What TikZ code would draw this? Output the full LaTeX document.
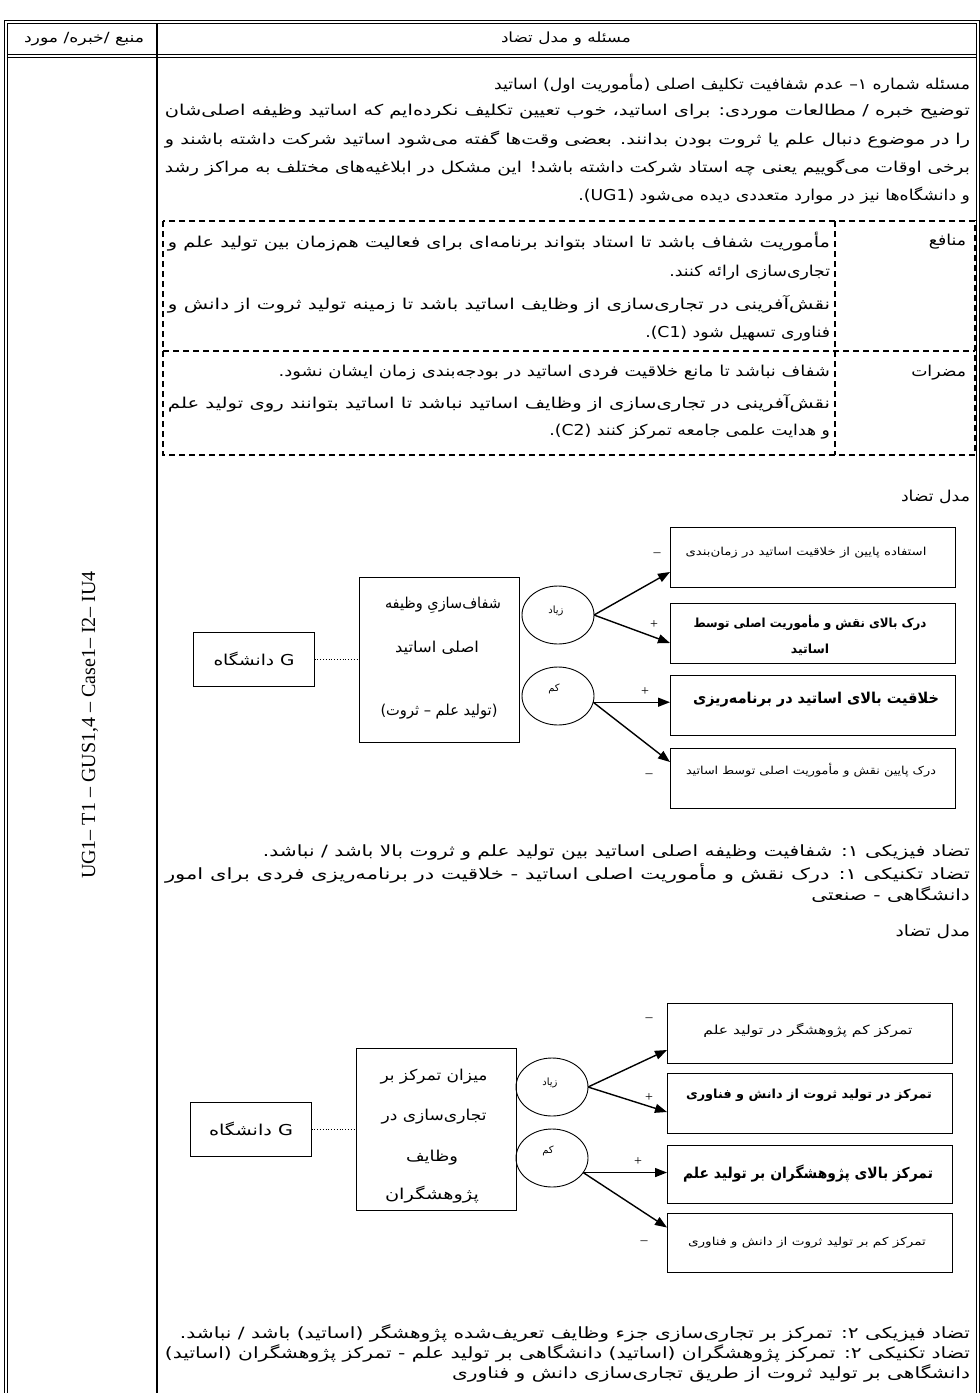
\documentclass[tikz,border=0pt]{standalone}
\usepackage{fontspec}
\usepackage{graphicx}
\usetikzlibrary{arrows.meta,shapes.geometric,calc}
\TeXXeTstate=1
\newfontfamily\pf[Script=Arabic]{DejaVu Sans}
\newfontfamily\lf{Liberation Serif}
\newcommand\z{^^^^200c}
\newcommand\fw[2]{\resizebox{#1}{\height}{#2}}
\newcommand\hs[2]{\scalebox{#1}[1]{#2}}
\begin{document}
\begin{tikzpicture}[x=1pt,y=-1pt,
  every node/.style={inner sep=0pt,outer sep=0pt},
  tl/.style={line width=0.9pt},
  hd/.style={font=\pf\fontsize{14}{16}\selectfont},
  ptxt/.style={font=\pf\fontsize{15}{18}\selectfont,anchor=east},
  qtxt/.style={font=\pf\fontsize{15.5}{18}\selectfont,anchor=east},
  rbox/.style={draw,line width=0.9pt,minimum width=285pt,minimum height=60pt},
  mbox/.style={draw,line width=0.9pt,minimum width=160pt,minimum height=165pt,anchor=north west},
  gbox/.style={draw,line width=0.9pt,minimum width=121pt,minimum height=54pt,font=\pf\fontsize{15}{17}\selectfont},
  oval/.style={draw,ellipse,line width=0.9pt,minimum width=72pt,minimum height=58pt},
  otxt/.style={font=\pf\fontsize{10}{12}\selectfont},
  mtxt/.style={font=\pf\fontsize{15}{17}\selectfont},
  arr/.style={line width=1.4pt,-{Triangle[length=12pt,width=9pt]}},
  sgn/.style={font=\lf\fontsize{14}{14}\selectfont},
  dsh/.style={line width=1.3pt,dash pattern=on 6pt off 4pt},
  small/.style={font=\pf\fontsize{11}{13}\selectfont},
  bmid/.style={font=\pf\bfseries\fontsize{12.5}{14}\selectfont},
  bbig/.style={font=\pf\bfseries\fontsize{15}{17}\selectfont}]
\useasboundingbox (0,0) rectangle (980,1393);
% table frame
\draw[tl] (4,1393) -- (4,20) -- (979,20) -- (979,1393);
\draw[tl] (7,1393) -- (7,23) -- (976,23) -- (976,1393);
\draw[tl] (7,54) -- (976,54);
\draw[tl] (7,57) -- (976,57);
\draw[line width=1.1pt] (157,23) -- (157,1393);
% header
\node[hd] (h1) at (84,39) {\fw{120pt}{\beginR منبع /خبره/ مورد\endR}};
\node[hd] (h2) at (566,39) {\fw{130pt}{\beginR مسئله و مدل تضاد\endR}};
% left column
\node[font=\lf\fontsize{20}{24}\selectfont,rotate=90] (src) at (90,725) {UG1– T1 – GUS1,4 – Case1– I2– IU4};
% paragraph
\node[ptxt] (p1) at (970,84) {\hs{1.15}{\beginR مسئله شماره ۱– عدم شفافیت تکلیف اصلی (مأموریت اول) اساتید\endR}};
\node[ptxt] (p2) at (970,112) {\fw{805pt}{\beginR توضیح خبره / مطالعات موردی: برای اساتید، خوب تعیین تکلیف نکرده\z ایم که اساتید وظیفه اصلی\z شان\endR}};
\node[ptxt] (p3) at (970,140) {\fw{805pt}{\beginR را در موضوع دنبال علم یا ثروت بودن بدانند. بعضی وقت\z ها گفته می\z شود اساتید شرکت داشته باشند و\endR}};
\node[ptxt] (p4) at (970,168) {\fw{805pt}{\beginR برخی اوقات می\z گوییم یعنی چه استاد شرکت داشته باشد! این مشکل در ابلاغیه\z های مختلف به مراکز رشد\endR}};
\node[ptxt] (p5) at (970,196) {\hs{1.15}{\beginR و دانشگاه\z ها نیز در موارد متعددی دیده می\z شود (\beginL UG1\endL).\endR}};
% dashed table
\draw[dsh] (163,221) rectangle (975,455);
\draw[dsh] (163,351) -- (975,351);
\draw[dsh] (835,221) -- (835,455);
\node[ptxt] (lb1) at (966,242) {\hs{1.15}{\beginR منافع\endR}};
\node[ptxt] (b1) at (830,242) {\fw{662pt}{\beginR مأموریت شفاف باشد تا استاد بتواند برنامه\z ای برای فعالیت هم\z زمان بین تولید علم و\endR}};
\node[ptxt] (b2) at (830,273) {\hs{1.15}{\beginR تجاری\z سازی ارائه کنند.\endR}};
\node[ptxt] (b3) at (830,304) {\fw{662pt}{\beginR نقش\z آفرینی در تجاری\z سازی از وظایف اساتید باشد تا زمینه تولید ثروت از دانش و\endR}};
\node[ptxt] (b4) at (830,334) {\hs{1.15}{\beginR فناوری تسهیل شود (\beginL C1\endL).\endR}};
\node[ptxt] (lb2) at (966,373) {\hs{1.15}{\beginR مضرات\endR}};
\node[ptxt] (d1) at (830,373) {\hs{1.2}{\beginR شفاف نباشد تا مانع خلاقیت فردی اساتید در بودجه\z بندی زمان ایشان نشود.\endR}};
\node[ptxt] (d2) at (830,403) {\fw{662pt}{\beginR نقش\z آفرینی در تجاری\z سازی از وظایف اساتید نباشد تا اساتید بتوانند روی تولید علم\endR}};
\node[ptxt] (d3) at (830,432) {\hs{1.15}{\beginR و هدایت علمی جامعه تمرکز کنند (\beginL C2\endL).\endR}};
% model 1
\node[ptxt] (m1) at (970,497) {\hs{1.15}{\beginR مدل تضاد\endR}};
\node[gbox] (G1) at (254,659) {\fw{81pt}{\beginR\beginL G\endL{} دانشگاه\endR}};
\node[mbox] (M1) at (359,577) {};
\node[mtxt] (M1a) at (443,605) {\fw{116pt}{\beginR شفاف\z سازیِ وظیفه\endR}};
\node[mtxt] (M1b) at (437,648) {\fw{84pt}{\beginR اصلی اساتید\endR}};
\node[mtxt] (M1c) at (439,712) {\fw{117pt}{\beginR (تولید علم – ثروت)\endR}};
\node[oval] (C1a) at (558,615) {};
\node[otxt] (C1at) at (556,611) {\beginR زیاد\endR};
\node[oval] (C1b) at (558,696) {};
\node[otxt] (C1bt) at (554,689) {\beginR کم\endR};
\node[rbox] (R1a) at (812.5,557) {};
\node[small] (R1at) at (806,553) {\fw{241pt}{\beginR استفاده پایین از خلاقیت اساتید در زمان\z بندی\endR}};
\node[rbox] (R1b) at (812.5,633) {};
\node[bmid] (R1bt) at (810,623) {\fw{233pt}{\beginR درک بالای نقش و مأموریت اصلی توسط\endR}};
\node[bmid] (R1bu) at (810,650) {\beginR اساتید\endR};
\node[rbox] (R1c) at (812.5,705) {};
\node[bbig] (R1ct) at (816,700) {\fw{246pt}{\beginR خلاقیت بالای اساتید در برنامه\z ریزی\endR}};
\node[rbox] (R1d) at (812.5,778) {};
\node[small] (R1dt) at (811,770) {\fw{250pt}{\beginR درک پایین نقش و مأموریت اصلی توسط اساتید\endR}};
\draw[dotted,line width=0.8pt] (G1.east) -- (G1.east -| M1.west);
\draw[arr] (C1a.east) -- ($(R1a.west)+(0,15)$);
\draw[arr] (C1a.east) -- ($(R1b.west)+(0,10)$);
\draw[arr] (C1b.-10) -- (C1b.-10 -| R1c.west);
\draw[arr] (C1b.-10) -- ($(R1d.west)+(0,-16)$);
\node[sgn] (s1) at (657,555) {–};
\node[sgn] (s2) at (654,625) {+};
\node[sgn] (s3) at (645,692) {+};
\node[sgn] (s4) at (649,776) {–};
% contradictions 1
\node[qtxt] (t1) at (970,852) {\hs{1.3}{\beginR تضاد فیزیکی ۱: شفافیت وظیفه اصلی اساتید بین تولید علم و ثروت بالا باشد / نباشد.\endR}};
\node[qtxt] (t2) at (970,873) {\fw{805pt}{\beginR تضاد تکنیکی ۱: درک نقش و مأموریت اصلی اساتید - خلاقیت در برنامه\z ریزی فردی برای امور\endR}};
\node[qtxt] (t3) at (970,895) {\hs{1.3}{\beginR دانشگاهی - صنعتی\endR}};
% model 2
\node[qtxt] (m2) at (970,932) {\hs{1.2}{\beginR مدل تضاد\endR}};
\node[gbox] (G2) at (251,1129) {\fw{84pt}{\beginR\beginL G\endL{} دانشگاه\endR}};
\node[mbox,minimum height=162pt] (M2) at (356,1048) {};
\node[mtxt] (M2a) at (434,1077) {\fw{107pt}{\beginR میزان تمرکز بر\endR}};
\node[mtxt] (M2b) at (434,1117) {\fw{105pt}{\beginR تجاری\z سازی در\endR}};
\node[mtxt] (M2c) at (432,1158) {\fw{52pt}{\beginR وظایف\endR}};
\node[mtxt] (M2d) at (432,1195) {\fw{94pt}{\beginR پژوهشگران\endR}};
\node[oval] (C2a) at (552,1087) {};
\node[otxt] (C2at) at (550,1083) {\beginR زیاد\endR};
\node[oval] (C2b) at (552,1158) {};
\node[otxt] (C2bt) at (548,1151) {\beginR کم\endR};
\node[rbox] (R2a) at (809.5,1033) {};
\node[font=\pf\fontsize{12.5}{14}\selectfont] (R2at) at (808,1030) {\fw{209pt}{\beginR تمرکز کم پژوهشگر در تولید علم\endR}};
\node[rbox] (R2b) at (809.5,1103) {};
\node[bmid] (R2bt) at (809,1095) {\fw{246pt}{\beginR تمرکز در تولید ثروت از دانش و فناوری\endR}};
\node[rbox,minimum height=58pt] (R2c) at (809.5,1174) {};
\node[bbig] (R2ct) at (808,1173) {\fw{250pt}{\beginR تمرکز بالای پژوهشگران بر تولید علم\endR}};
\node[rbox,minimum height=59pt] (R2d) at (809.5,1242.5) {};
\node[small] (R2dt) at (807,1243) {\fw{238pt}{\beginR تمرکز کم بر تولید ثروت از دانش و فناوری\endR}};
\draw[dotted,line width=0.8pt] (G2.east) -- (G2.east -| M2.west);
\draw[arr] (C2a.east) -- ($(R2a.west)+(0,17)$);
\draw[arr] (C2a.east) -- ($(R2b.west)+(0,9)$);
\draw[arr] (C2b.-25) -- (C2b.-25 -| R2c.west);
\draw[arr] (C2b.-25) -- ($(R2d.west)+(0,-15)$);
\node[sgn] (s5) at (649,1020) {–};
\node[sgn] (s6) at (649,1098) {+};
\node[sgn] (s7) at (638,1162) {+};
\node[sgn] (s8) at (644,1243) {–};
% contradictions 2
\node[qtxt] (u1) at (970,1333) {\hs{1.3}{\beginR تضاد فیزیکی ۲: تمرکز بر تجاری\z سازی جزء وظایف تعریف\z شده پژوهشگر (اساتید) باشد / نباشد.\endR}};
\node[qtxt] (u2) at (970,1353) {\fw{805pt}{\beginR تضاد تکنیکی ۲: تمرکز پژوهشگران (اساتید) دانشگاهی بر تولید علم - تمرکز پژوهشگران (اساتید)\endR}};
\node[qtxt] (u3) at (970,1373) {\hs{1.3}{\beginR دانشگاهی بر تولید ثروت از طریق تجاری\z سازی دانش و فناوری\endR}};
\end{tikzpicture}
\end{document}
